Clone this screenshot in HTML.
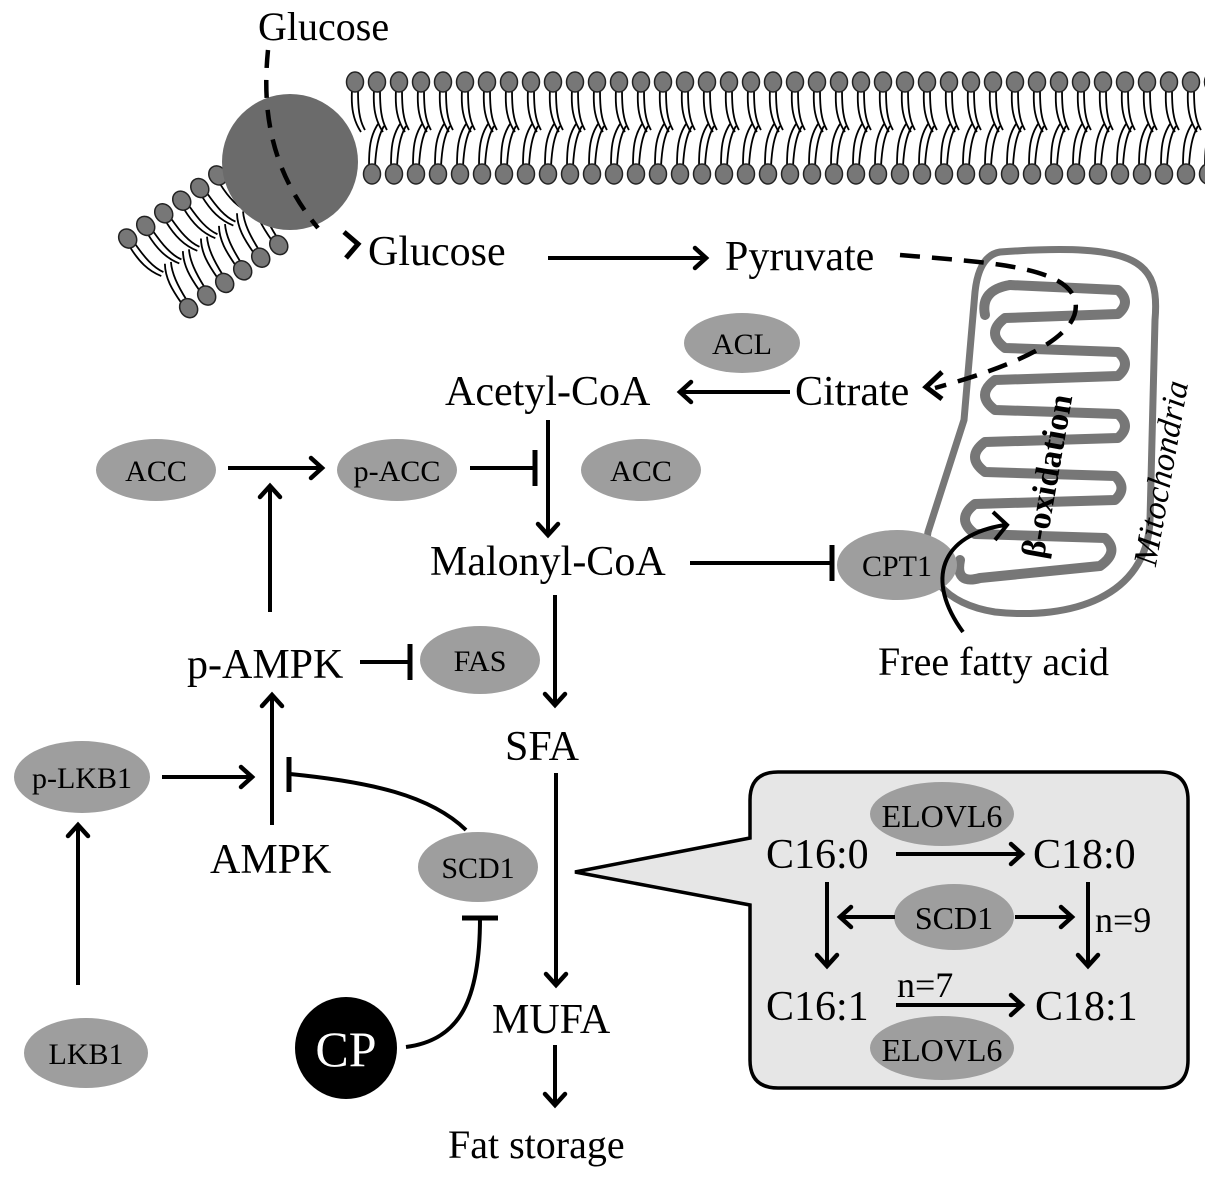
<!DOCTYPE html>
<html><head><meta charset="utf-8"><style>
html,body{margin:0;padding:0;background:#fff}
svg{display:block}
text{font-family:"Liberation Serif",serif;fill:#000}
</style></head><body>
<svg width="1205" height="1181" viewBox="0 0 1205 1181" xmlns="http://www.w3.org/2000/svg">
<defs>
<marker id="ah" viewBox="-14 -14 28 28" refX="0" refY="0" markerWidth="28" markerHeight="28" orient="auto" markerUnits="userSpaceOnUse">
<path d="M-11,-10 L0,0 L-11,10" fill="none" stroke="#000" stroke-width="4.5" stroke-linecap="round" stroke-linejoin="miter"/>
</marker>
<g id="lt"><path d="M-3,8 C-4,25 -2,38 6,50 M3,8 C3,25 4,38 10,48" fill="none" stroke="#000" stroke-width="1.8"/><ellipse cx="0" cy="0" rx="8.5" ry="10" fill="#777" stroke="#222" stroke-width="1.5"/></g>
<g id="lb"><path d="M-3,-8 C-3,-25 -2,-38 6,-50 M3,-8 C4,-25 6,-38 12,-48" fill="none" stroke="#000" stroke-width="1.8"/><ellipse cx="0" cy="0" rx="8.5" ry="10" fill="#777" stroke="#222" stroke-width="1.5"/></g>
<g id="top">
<use href="#lt" x="0"/><use href="#lt" x="22"/><use href="#lt" x="44"/><use href="#lt" x="66"/><use href="#lt" x="88"/><use href="#lt" x="110"/><use href="#lt" x="132"/><use href="#lt" x="154"/><use href="#lt" x="176"/><use href="#lt" x="198"/>
</g>
<g id="bot">
<use href="#lb" x="0"/><use href="#lb" x="22"/><use href="#lb" x="44"/><use href="#lb" x="66"/><use href="#lb" x="88"/><use href="#lb" x="110"/><use href="#lb" x="132"/><use href="#lb" x="154"/><use href="#lb" x="176"/><use href="#lb" x="198"/>
</g>
</defs>

<!-- membrane horizontal -->
<use href="#top" x="355" y="82"/><use href="#top" x="575" y="82"/><use href="#top" x="795" y="82"/><use href="#top" x="1015" y="82"/>
<use href="#bot" x="372" y="174"/><use href="#bot" x="592" y="174"/><use href="#bot" x="812" y="174"/><use href="#bot" x="1032" y="174"/>
<!-- membrane tilted -->
<g transform="translate(235,200) rotate(-35)">
<use href="#lt" x="-110" y="-30"/><use href="#lt" x="-88" y="-30"/><use href="#lt" x="-66" y="-30"/><use href="#lt" x="-44" y="-30"/><use href="#lt" x="-22" y="-30"/><use href="#lt" x="0" y="-30"/>
<use href="#lb" x="-100" y="62"/><use href="#lb" x="-78" y="62"/><use href="#lb" x="-56" y="62"/><use href="#lb" x="-34" y="62"/><use href="#lb" x="-12" y="62"/><use href="#lb" x="10" y="62"/>
</g>
<circle cx="290" cy="162" r="68" fill="#6b6b6b"/>
<!-- glucose transport dashed -->
<path d="M268,50 C262,110 270,170 318,228" fill="none" stroke="#000" stroke-width="4.5" stroke-dasharray="18,12"/>
<path d="M344,232 L358,244 L346,258" fill="none" stroke="#000" stroke-width="5"/>
<text x="258" y="40" font-size="40">Glucose</text>
<text x="368" y="265" font-size="42">Glucose</text>
<line x1="548" y1="258" x2="706" y2="258" stroke="#000" stroke-width="4" marker-end="url(#ah)"/>
<text x="725" y="270" font-size="42">Pyruvate</text>

<!-- mitochondria -->
<path d="M1000,252 C1140,242 1160,262 1155,320 L1150,520 C1147,598 1070,620 995,612 C945,604 920,575 928,532 L964,420 L975,292 C978,264 988,254 1000,252 Z" fill="none" stroke="#777" stroke-width="7"/>
<path d="M1010,285 L1118,290 Q1132,302 1118,314 L1005,318 Q985,333 1005,348 L1118,352 Q1132,364 1118,376 L995,380 Q975,395 995,410 L1118,414 Q1132,426 1118,438 L985,442 Q965,457 985,472 L1115,476 Q1128,488 1115,500 L975,504 Q955,519 975,534 L1105,538 Q1120,552 1100,566 L980,578 Q955,585 960,560" fill="none" stroke="#777" stroke-width="10" stroke-linejoin="round" stroke-linecap="round"/>
<path d="M1010,285 Q980,290 985,315" fill="none" stroke="#777" stroke-width="10" stroke-linecap="round"/>
<path d="M900,255 C980,262 1065,265 1075,300 C1085,340 1000,370 935,388" fill="none" stroke="#000" stroke-width="4.5" stroke-dasharray="20,12"/>
<path d="M942,372 L926,387 L942,399" fill="none" stroke="#000" stroke-width="5"/>
<text transform="translate(1058,478) rotate(-80)" font-size="34" font-weight="bold" text-anchor="middle">β-oxidation</text>
<text transform="translate(1172,475) rotate(-80)" font-size="34" font-style="italic" text-anchor="middle">Mitochondria</text>

<!-- ACL / Acetyl-CoA / Citrate -->
<ellipse cx="742" cy="343" rx="58" ry="30" fill="#9e9e9e"/>
<text x="742" y="354" font-size="30" text-anchor="middle">ACL</text>
<text x="445" y="405" font-size="42">Acetyl-CoA</text>
<text x="795" y="405" font-size="42">Citrate</text>
<line x1="790" y1="392" x2="680" y2="392" stroke="#000" stroke-width="4" marker-end="url(#ah)"/>
<line x1="548" y1="420" x2="548" y2="535" stroke="#000" stroke-width="4" marker-end="url(#ah)"/>

<!-- ACC row -->
<ellipse cx="156" cy="470" rx="60" ry="31" fill="#9e9e9e"/>
<text x="156" y="481" font-size="30" text-anchor="middle">ACC</text>
<line x1="228" y1="468" x2="322" y2="468" stroke="#000" stroke-width="4" marker-end="url(#ah)"/>
<ellipse cx="397" cy="470" rx="60" ry="31" fill="#9e9e9e"/>
<text x="397" y="481" font-size="30" text-anchor="middle">p-ACC</text>
<line x1="470" y1="468" x2="535" y2="468" stroke="#000" stroke-width="4"/>
<line x1="535" y1="450" x2="535" y2="486" stroke="#000" stroke-width="5"/>
<ellipse cx="641" cy="470" rx="60" ry="31" fill="#9e9e9e"/>
<text x="641" y="481" font-size="30" text-anchor="middle">ACC</text>

<!-- Malonyl -->
<text x="430" y="575" font-size="42">Malonyl-CoA</text>
<line x1="690" y1="563" x2="832" y2="563" stroke="#000" stroke-width="4"/>
<line x1="832" y1="545" x2="832" y2="581" stroke="#000" stroke-width="5"/>
<ellipse cx="897" cy="565" rx="60" ry="35" fill="#9e9e9e"/>
<text x="897" y="576" font-size="30" text-anchor="middle">CPT1</text>
<path d="M963,632 C925,580 940,535 1005,525" fill="none" stroke="#000" stroke-width="4"/>
<path d="M993,512 L1007,525 L995,540" fill="none" stroke="#000" stroke-width="4"/>
<text x="878" y="675" font-size="40">Free fatty acid</text>
<line x1="555" y1="595" x2="555" y2="705" stroke="#000" stroke-width="4" marker-end="url(#ah)"/>

<!-- p-AMPK -->
<line x1="270" y1="612" x2="270" y2="486" stroke="#000" stroke-width="4" marker-end="url(#ah)"/>
<text x="187" y="678" font-size="42">p-AMPK</text>
<line x1="360" y1="662" x2="410" y2="662" stroke="#000" stroke-width="4"/>
<line x1="410" y1="644" x2="410" y2="680" stroke="#000" stroke-width="5"/>
<ellipse cx="480" cy="660" rx="60" ry="34" fill="#9e9e9e"/>
<text x="480" y="671" font-size="30" text-anchor="middle">FAS</text>

<text x="505" y="760" font-size="42">SFA</text>
<line x1="556" y1="773" x2="556" y2="985" stroke="#000" stroke-width="4" marker-end="url(#ah)"/>
<text x="492" y="1033" font-size="42">MUFA</text>
<line x1="555" y1="1045" x2="555" y2="1105" stroke="#000" stroke-width="4" marker-end="url(#ah)"/>
<text x="448" y="1158" font-size="40">Fat storage</text>

<!-- LKB1 -->
<ellipse cx="82" cy="777" rx="68" ry="36" fill="#9e9e9e"/>
<text x="82" y="788" font-size="30" text-anchor="middle">p-LKB1</text>
<line x1="162" y1="777" x2="252" y2="777" stroke="#000" stroke-width="4" marker-end="url(#ah)"/>
<line x1="272" y1="825" x2="272" y2="695" stroke="#000" stroke-width="4" marker-end="url(#ah)"/>
<text x="210" y="873" font-size="42">AMPK</text>
<path d="M466,830 C430,795 370,782 290,774" fill="none" stroke="#000" stroke-width="4"/>
<line x1="289" y1="757" x2="289" y2="792" stroke="#000" stroke-width="5"/>
<ellipse cx="478" cy="867" rx="60" ry="35" fill="#9e9e9e"/>
<text x="478" y="878" font-size="30" text-anchor="middle">SCD1</text>
<line x1="78" y1="985" x2="78" y2="825" stroke="#000" stroke-width="4" marker-end="url(#ah)"/>
<ellipse cx="86" cy="1053" rx="62" ry="35" fill="#9e9e9e"/>
<text x="86" y="1064" font-size="30" text-anchor="middle">LKB1</text>
<circle cx="346" cy="1048" r="51" fill="#000"/>
<text x="346" y="1066" font-size="50" text-anchor="middle" style="fill:#fff">CP</text>
<path d="M406,1047 C460,1040 480,1000 480,918" fill="none" stroke="#000" stroke-width="4"/>
<line x1="462" y1="918" x2="498" y2="918" stroke="#000" stroke-width="5"/>

<!-- callout -->
<path d="M778,772 L1160,772 Q1188,772 1188,800 L1188,1060 Q1188,1088 1160,1088 L778,1088 Q750,1088 750,1060 L750,905 L575,872 L750,838 L750,800 Q750,772 778,772 Z" fill="#e6e6e6" stroke="#000" stroke-width="3.5"/>
<ellipse cx="942" cy="814" rx="72" ry="32" fill="#9e9e9e"/>
<text x="942" y="827" font-size="32" text-anchor="middle">ELOVL6</text>
<text x="766" y="868" font-size="42">C16:0</text>
<line x1="896" y1="854" x2="1022" y2="854" stroke="#000" stroke-width="4" marker-end="url(#ah)"/>
<text x="1033" y="868" font-size="42">C18:0</text>
<ellipse cx="954" cy="917" rx="60" ry="33" fill="#9e9e9e"/>
<text x="954" y="929" font-size="32" text-anchor="middle">SCD1</text>
<line x1="895" y1="917" x2="840" y2="917" stroke="#000" stroke-width="4" marker-end="url(#ah)"/>
<line x1="1015" y1="917" x2="1072" y2="917" stroke="#000" stroke-width="4" marker-end="url(#ah)"/>
<line x1="827" y1="882" x2="827" y2="966" stroke="#000" stroke-width="4" marker-end="url(#ah)"/>
<line x1="1088" y1="882" x2="1088" y2="966" stroke="#000" stroke-width="4" marker-end="url(#ah)"/>
<text x="1095" y="932" font-size="36">n=9</text>
<text x="766" y="1020" font-size="42">C16:1</text>
<text x="897" y="997" font-size="36">n=7</text>
<line x1="896" y1="1005" x2="1022" y2="1005" stroke="#000" stroke-width="4" marker-end="url(#ah)"/>
<text x="1035" y="1020" font-size="42">C18:1</text>
<ellipse cx="942" cy="1048" rx="72" ry="32" fill="#9e9e9e"/>
<text x="942" y="1061" font-size="32" text-anchor="middle">ELOVL6</text>
</svg>
</body></html>
